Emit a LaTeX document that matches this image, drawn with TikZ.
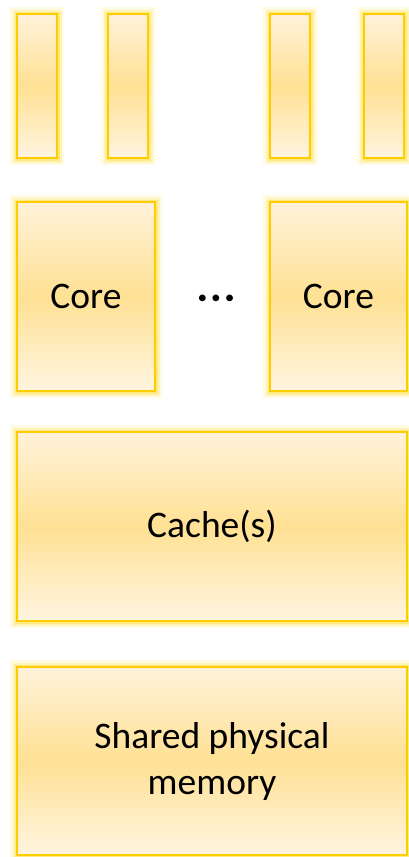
\documentclass[tikz,border=0pt]{standalone}
\usepackage{fontspec}
\setmainfont{Carlito}
\usetikzlibrary{backgrounds}
\definecolor{boxtop}{HTML}{FFF2DA}
\definecolor{boxmid}{HTML}{FFE194}
\definecolor{boxbot}{HTML}{FFF4E0}
\definecolor{boxline}{HTML}{FFCC00}
\definecolor{glowc}{HTML}{FFE040}
\tikzset{
  box/.style={draw=boxline, line width=2pt, top color=boxtop, bottom color=boxbot,
    middle color=boxmid, inner sep=0pt, outer sep=0pt, font=\fontsize{37.5}{46}\selectfont,
    align=center, text=black},
  glowA/.style={draw=glowc, line width=14pt, opacity=0.15},
  glowB/.style={draw=glowc, line width=9pt, opacity=0.25},
  glowC/.style={draw=glowc, line width=5pt, opacity=0.45},
}
\newcommand{\glowbox}[1]{%
  \draw[glowA] (#1.south west) rectangle (#1.north east);
  \draw[glowB] (#1.south west) rectangle (#1.north east);
  \draw[glowC] (#1.south west) rectangle (#1.north east);}
\begin{document}
\begin{tikzpicture}[x=1pt,y=-1pt]
\useasboundingbox (0,0) rectangle (408,857);
\node[box, minimum width=40pt, minimum height=144pt] (b1) at (37,86) {};
\node[box, minimum width=40pt, minimum height=144pt] (b2) at (128,86) {};
\node[box, minimum width=40pt, minimum height=144pt] (b3) at (290,86) {};
\node[box, minimum width=40pt, minimum height=144pt] (b4) at (384,86) {};
\node[box, minimum width=138pt, minimum height=189pt] (c1) at (86,296.5) {Core};
\node[box, minimum width=137pt, minimum height=189pt] (c2) at (338.5,296.5) {Core};
\node[font=\fontsize{36}{46}\selectfont\bfseries, inner sep=0pt] (dots) at (216,302) {·\hspace{4pt}·\hspace{4pt}·};
\node[box, minimum width=390pt, minimum height=189pt] (cache) at (212,526.5) {Cache(s)};
\node[box, minimum width=390pt, minimum height=188pt] (mem) at (212,761) {Shared physical\\memory};
\begin{scope}[on background layer]
\fill[white] (0,0) rectangle (408,857);
\glowbox{b1}\glowbox{b2}\glowbox{b3}\glowbox{b4}
\glowbox{c1}\glowbox{c2}\glowbox{cache}\glowbox{mem}
\end{scope}
\end{tikzpicture}
\end{document}
